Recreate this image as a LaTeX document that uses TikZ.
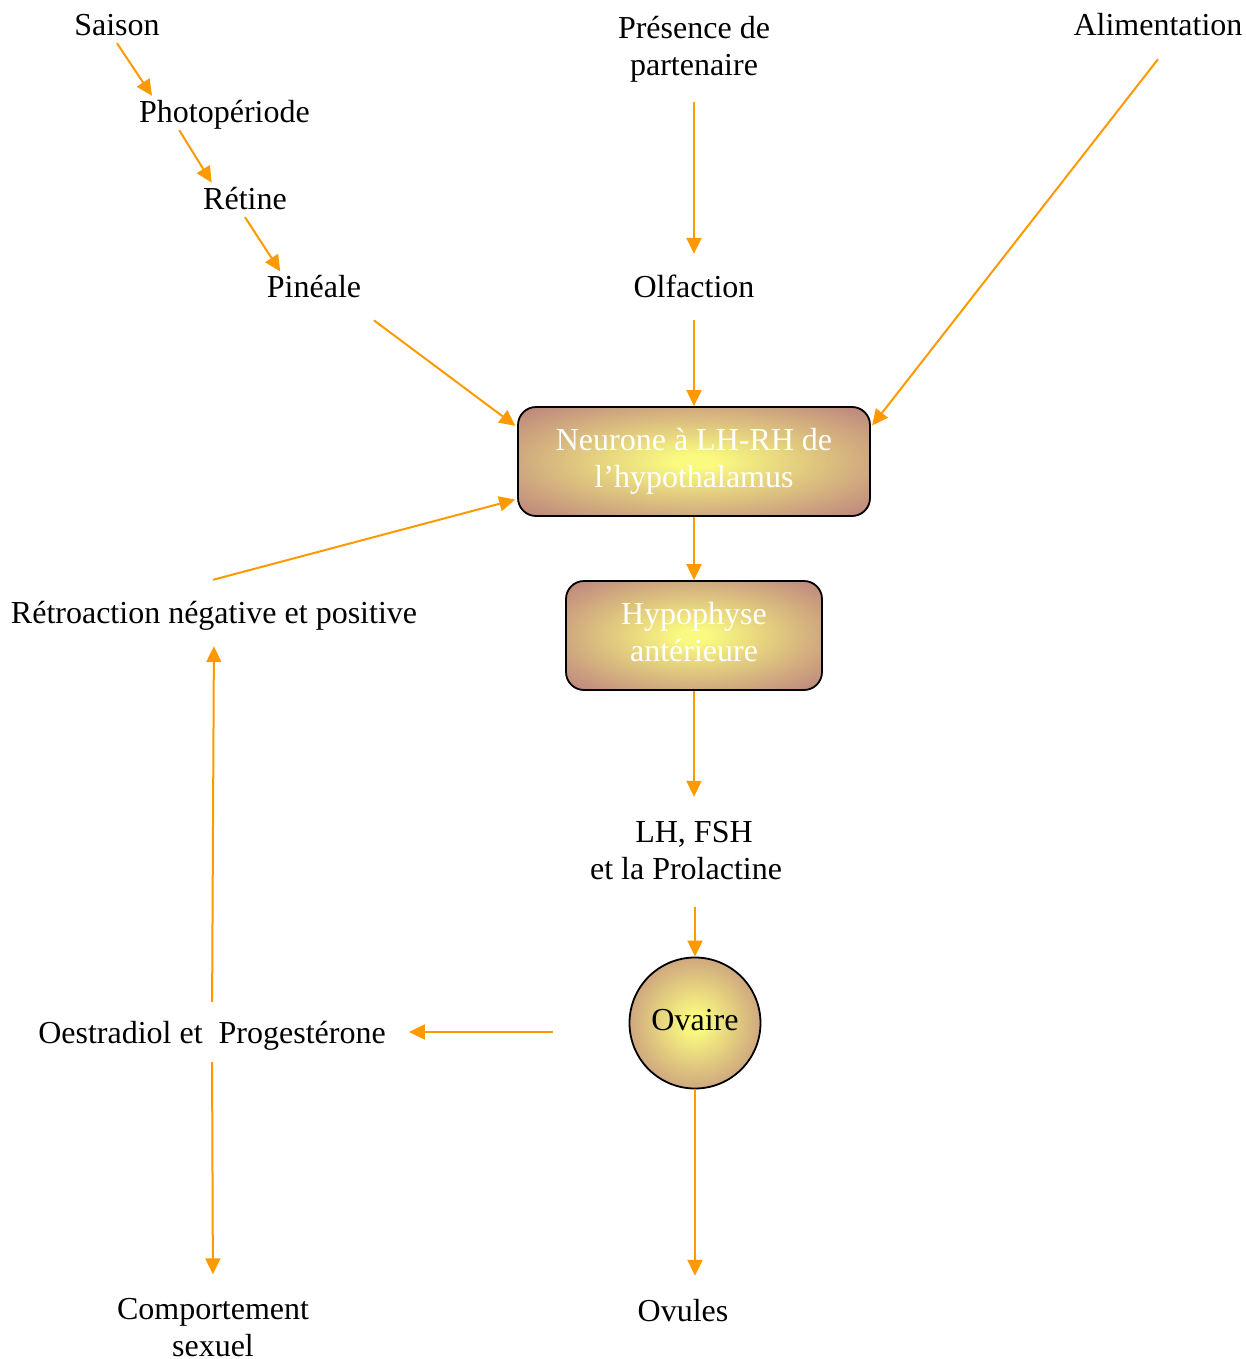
\documentclass[tikz,border=0pt]{standalone}
\usepackage{fontspec}
\setmainfont{Liberation Serif}
\usetikzlibrary{arrows.meta,calc}
\definecolor{shin}{RGB}{250,250,128}
\definecolor{shout}{RGB}{190,135,126}
\definecolor{arr}{RGB}{255,153,0}
\pgfdeclareradialshading{boxshade}{\pgfpoint{0bp}{0bp}}{color(0bp)=(shin); color(3bp)=(shin); color(34bp)=(shout); color(50bp)=(shout)}
\begin{document}
\begin{tikzpicture}[x=1pt,y=-1pt,
  lbl/.style={inner sep=0pt, font=\fontsize{32}{37}\selectfont, text height=22pt, text depth=7pt, align=center},
  two/.style={text height=59pt},
  box/.style={lbl, two, draw=black, line width=1.8pt, rounded corners=18pt, shading=boxshade, text=white},
  flow/.style={draw=arr, line width=2pt, -{Triangle[length=16pt,width=15pt]}}]
\useasboundingbox (0,0) rectangle (1246,1359);

% text nodes
\node[lbl] (saison) at (117,28.5) {Saison};
\node[lbl] (photo) at (224.5,115.5) {Photopériode};
\node[lbl] (retine) at (245,202.5) {Rétine};
\node[lbl] (pineale) at (314,289.5) {Pinéale};
\node[lbl, two] (presence) at (694,50) {Présence de\\partenaire};
\node[lbl] (alim) at (1158,28.5) {Alimentation};
\node[lbl] (olf) at (694,289.5) {Olfaction};
\node[box, minimum width=352pt, minimum height=109pt] (neur) at (694,461.5) {Neurone à LH-RH de\\l’hypothalamus};
\node[box, minimum width=256pt, minimum height=109pt] (hyp) at (694,635.5) {Hypophyse\\antérieure};
\node[lbl, two] (lh) at (686,853) {\hspace*{16pt}LH, FSH\\et la Prolactine};
\node[lbl, circle, draw=black, line width=1.8pt, shading=boxshade, minimum size=131pt, text=black] (ovaire) at (695,1023) {Ovaire};
\node[lbl] (retro) at (214,615.5) {Rétroaction négative et positive};
\node[lbl] (oestr) at (212,1035.5) {Oestradiol et~~Progestérone};
\node[lbl, two] (comp) at (213,1330.5) {Comportement\\sexuel};
\node[lbl] (ovules) at (683,1313.5) {Ovules};

% connectors
\draw[flow, shorten >=6pt] (saison.south) -- (photo.168);
\draw[flow, shorten >=6pt] (photo.198) -- (retine.154);
\draw[flow, shorten >=4pt] (retine.south) -- (pineale.155);
\draw[flow, shorten <=27pt, shorten >=2pt] (pineale.-21) -- (neur.169);
\draw[flow, shorten <=19pt, shorten >=21pt] (presence.south) -- (olf.north);
\draw[flow, shorten >=2pt] ($(alim.south)+(0,16)$) -- (neur.11);
\draw[flow, shorten <=16pt] (olf.south) -- (neur.north);
\draw[flow, shorten >=2pt] ($(retro.north)+(-1,-21)$) -- (neur.192);
\draw[flow] (neur.south) -- (hyp.north);
\draw[flow, shorten >=23pt] (hyp.south) -- (hyp.south |- lh.north);
\draw[flow, shorten <=21pt] (lh.south -| ovaire.north) -- (ovaire.north);
\draw[flow] ($(ovaire.west)+(-76,9)$) -- ($(oestr.east)+(23,-3.5)$);
\draw[flow, shorten <=19pt, shorten >=16pt] (oestr.north) -- (retro.south);
\draw[flow, shorten <=12pt, shorten >=23pt] (oestr.south) -- (comp.north);
\draw[flow, shorten >=23pt] (ovaire.south) -- (ovaire.south |- ovules.north);
\end{tikzpicture}
\end{document}
